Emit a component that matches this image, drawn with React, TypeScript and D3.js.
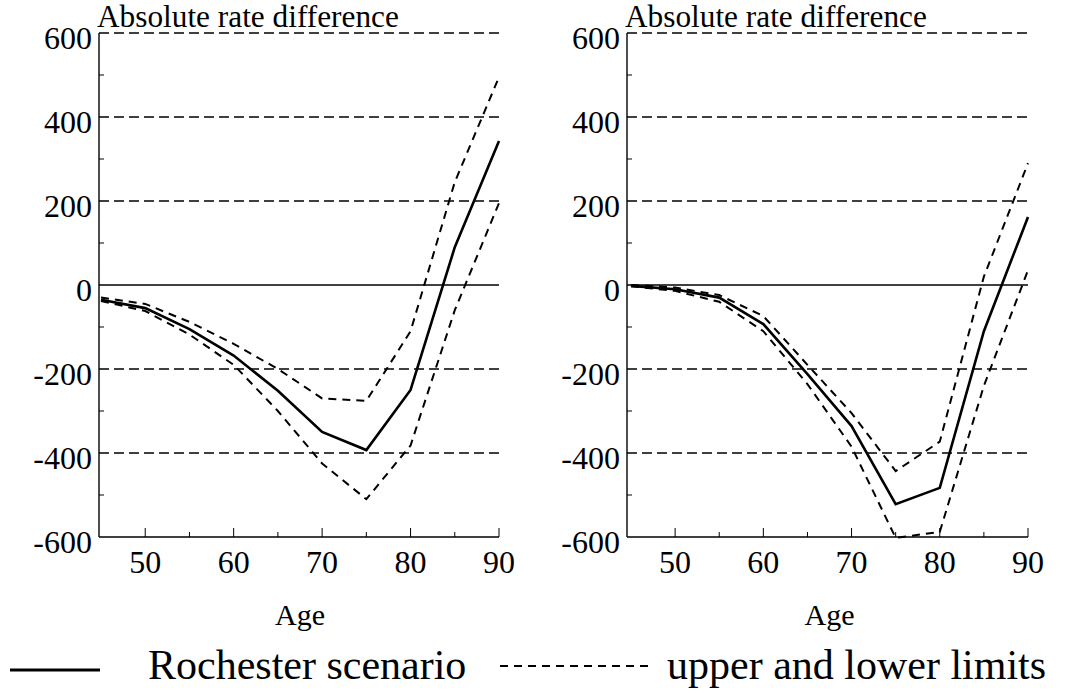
import React from "react";
import * as d3 from "d3";

const ages = [45, 50, 55, 60, 65, 70, 75, 80, 85, 90];
const leftScenario = [-35, -55, -105, -168, -252, -350, -393, -250, 90, 343];
const leftUpper = [-30, -45, -88, -140, -200, -270, -276, -110, 245, 495];
const leftLower = [-38, -62, -118, -190, -300, -425, -510, -382, -60, 195];
const rightScenario = [-2, -10, -30, -93, -212, -336, -522, -483, -110, 162];
const rightUpper = [0, -6, -24, -74, -190, -305, -443, -373, 20, 290];
const rightLower = [-3, -14, -40, -110, -236, -385, -602, -588, -240, 35];

const yTicks = [600, 400, 200, 0, -200, -400, -600];
const yMinor = [500, 300, 100, -100, -300, -500];
const xTicks = [50, 60, 70, 80, 90];
const xMinor = [55, 65, 75, 85];
const yTitle = "Absolute rate difference";
const xTitle = "Age";
const legendSolid = "Rochester scenario";
const legendDashed = "upper and lower limits";

const FONT = "'Liberation Serif', 'Times New Roman', serif";

type PanelProps = {
  x0: number;
  x1: number;
  axisX: number;
  scenario: number[];
  upper: number[];
  lower: number[];
};

function Panel({ x0, x1, axisX, scenario, upper, lower }: PanelProps) {
  const x = d3.scaleLinear().domain([45, 90]).range([x0, x1]);
  const y = d3.scaleLinear().domain([-600, 600]).range([537, 33]);
  const line = d3
    .line<number>()
    .x((_, i) => x(ages[i]))
    .y((d) => y(d));
  return (
    <g>
      {yTicks
        .filter((t) => t !== -600)
        .map((t) => (
          <line
            key={"g" + t}
            x1={axisX}
            x2={x1}
            y1={y(t)}
            y2={y(t)}
            stroke="#000"
            strokeWidth={t === 0 ? 1.6 : 1.4}
            strokeDasharray={t === 0 ? undefined : "10,5"}
          />
        ))}
      <line x1={axisX} x2={axisX} y1={y(600)} y2={y(-600)} stroke="#000" strokeWidth={1.4} />
      <line x1={axisX} x2={x1} y1={y(-600)} y2={y(-600)} stroke="#000" strokeWidth={1.6} />
      {yMinor.map((t) => (
        <line key={"ym" + t} x1={axisX} x2={axisX + 5} y1={y(t)} y2={y(t)} stroke="#000" strokeWidth={1} />
      ))}
      {xTicks.map((t) => (
        <line key={"xt" + t} x1={x(t)} x2={x(t)} y1={y(-600)} y2={y(-600) - 9} stroke="#000" strokeWidth={1} />
      ))}
      {xMinor.map((t) => (
        <line key={"xm" + t} x1={x(t)} x2={x(t)} y1={y(-600)} y2={y(-600) - 5} stroke="#000" strokeWidth={1} />
      ))}
      {yTicks.map((t) => (
        <text
          key={"yl" + t}
          x={axisX - 7}
          y={y(t) + 16}
          textAnchor="end"
          fontFamily={FONT}
          fontSize={32}
        >
          {t}
        </text>
      ))}
      {xTicks.map((t) => (
        <text
          key={"xl" + t}
          x={x(t)}
          y={573}
          textAnchor="middle"
          fontFamily={FONT}
          fontSize={32}
        >
          {t}
        </text>
      ))}
      <text x={axisX - 2} y={27} fontFamily={FONT} fontSize={31.3}>
        {yTitle}
      </text>
      <text x={(x0 + x1) / 2} y={625} textAnchor="middle" fontFamily={FONT} fontSize={30}>
        {xTitle}
      </text>
      <path d={line(upper) || ""} fill="none" stroke="#000" strokeWidth={2} strokeDasharray="8,6" />
      <path d={line(lower) || ""} fill="none" stroke="#000" strokeWidth={2} strokeDasharray="8,6" />
      <path d={line(scenario) || ""} fill="none" stroke="#000" strokeWidth={2.6} />
    </g>
  );
}

export default function App() {
  return (
    <svg
      width={1067}
      height={693}
      style={{ position: "absolute", left: 0, top: 0, background: "#fff" }}
    >
      <rect x={0} y={0} width={1067} height={693} fill="#fff" />
      <Panel x0={101} x1={499} axisX={99} scenario={leftScenario} upper={leftUpper} lower={leftLower} />
      <Panel x0={631} x1={1028} axisX={627} scenario={rightScenario} upper={rightUpper} lower={rightLower} />
      <line x1={10} x2={100} y1={670} y2={670} stroke="#000" strokeWidth={3} />
      <text x={148} y={679} fontFamily={FONT} fontSize={42}>
        {legendSolid}
      </text>
      <line x1={500} x2={648} y1={666} y2={666} stroke="#000" strokeWidth={2} strokeDasharray="8,6" />
      <text x={667} y={679} fontFamily={FONT} fontSize={42}>
        {legendDashed}
      </text>
    </svg>
  );
}
